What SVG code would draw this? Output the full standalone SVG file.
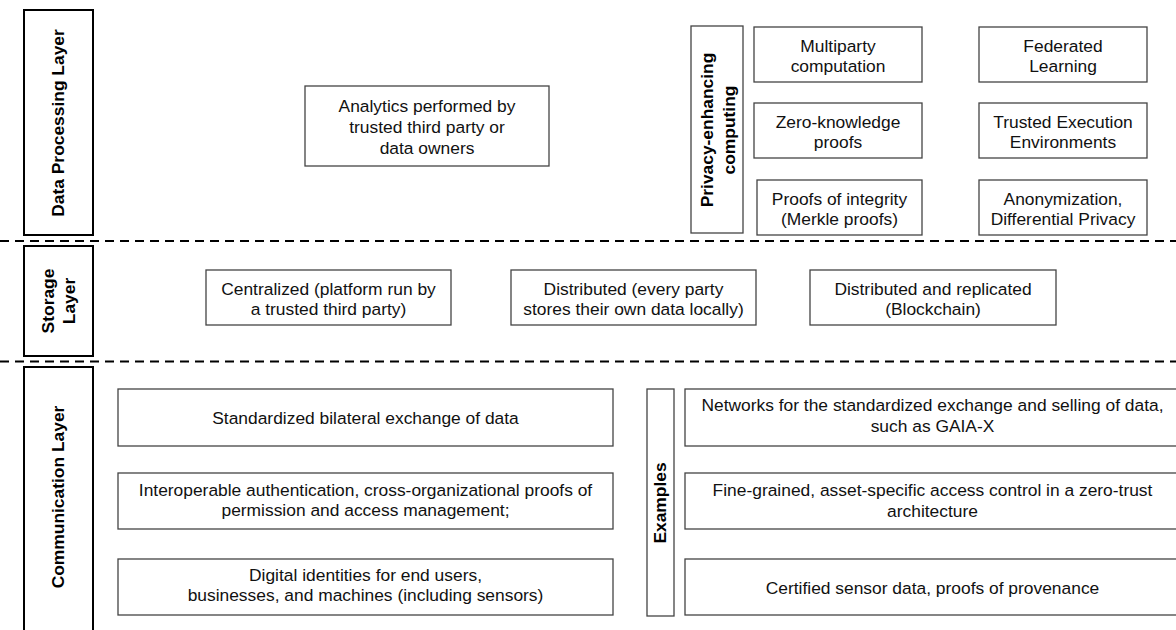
<svg xmlns="http://www.w3.org/2000/svg" width="1176" height="630" viewBox="0 0 1176 630">
<style>
text{font-family:"Liberation Sans",Arial,sans-serif;font-size:17.4px;fill:#111;text-anchor:middle}
.t{font-weight:bold;fill:#000}
.layer{fill:#fff;stroke:#000;stroke-width:2}
.box{fill:#fff;stroke:#444;stroke-width:1.3}
.dash{stroke:#000;stroke-width:2;stroke-dasharray:9 6;fill:none}
</style>
<rect width="1176" height="630" fill="#fff"/>
<g id="separators">
<line class="dash" x1="0" y1="241" x2="1176" y2="241"/>
<line class="dash" x1="0" y1="361.5" x2="1176" y2="361.5"/>
</g>
<g id="connectors"></g>
<g id="layer-processing">
<rect class="layer" x="24" y="10" width="69" height="225"/>
<text class="t" transform="translate(64,123) rotate(-90)">Data Processing Layer</text>
</g>
<g id="layer-storage">
<rect class="layer" x="24" y="246" width="69" height="110"/>
<text class="t" transform="translate(54,301) rotate(-90)">Storage</text>
<text class="t" transform="translate(75,301) rotate(-90)">Layer</text>
</g>
<g id="layer-communication">
<rect class="layer" x="24" y="367" width="69" height="280"/>
<text class="t" transform="translate(64,497) rotate(-90)">Communication Layer</text>
</g>
<g id="analytics">
<rect class="box" x="305" y="86" width="244" height="80"/>
<text x="427" y="112">Analytics performed by</text>
<text x="427" y="133">trusted third party or</text>
<text x="427" y="154">data owners</text>
</g>
<g id="pec">
<rect class="box" x="691" y="26" width="52" height="207"/>
<text class="t" transform="translate(713,130) rotate(-90)">Privacy-enhancing</text>
<text class="t" transform="translate(735,130) rotate(-90)">computing</text>
</g>
<g id="mpc">
<rect class="box" x="754" y="27" width="168" height="55"/>
<text x="838" y="52">Multiparty</text>
<text x="838" y="72">computation</text>
</g>
<g id="zkp">
<rect class="box" x="754" y="103" width="168" height="55"/>
<text x="838" y="128">Zero-knowledge</text>
<text x="838" y="148">proofs</text>
</g>
<g id="poi">
<rect class="box" x="757" y="180" width="165" height="55"/>
<text x="839.5" y="205">Proofs of integrity</text>
<text x="839.5" y="225">(Merkle proofs)</text>
</g>
<g id="fl">
<rect class="box" x="979" y="27" width="168" height="55"/>
<text x="1063" y="52">Federated</text>
<text x="1063" y="72">Learning</text>
</g>
<g id="tee">
<rect class="box" x="979" y="103" width="168" height="55"/>
<text x="1063" y="128">Trusted Execution</text>
<text x="1063" y="148">Environments</text>
</g>
<g id="anon">
<rect class="box" x="979" y="180" width="168" height="55"/>
<text x="1063" y="205">Anonymization,</text>
<text x="1063" y="225">Differential Privacy</text>
</g>
<g id="centralized">
<rect class="box" x="206" y="270" width="245" height="55"/>
<text x="328.5" y="295">Centralized (platform run by</text>
<text x="328.5" y="315">a trusted third party)</text>
</g>
<g id="distributed">
<rect class="box" x="511" y="270" width="245" height="55"/>
<text x="633.5" y="295">Distributed (every party</text>
<text x="633.5" y="315">stores their own data locally)</text>
</g>
<g id="replicated">
<rect class="box" x="810" y="270" width="246" height="55"/>
<text x="933" y="295">Distributed and replicated</text>
<text x="933" y="315">(Blockchain)</text>
</g>
<g id="bilateral">
<rect class="box" x="118" y="389" width="495" height="57"/>
<text x="365.5" y="423.5">Standardized bilateral exchange of data</text>
</g>
<g id="interop">
<rect class="box" x="118" y="473" width="495" height="56"/>
<text x="365.5" y="496">Interoperable authentication, cross-organizational proofs of</text>
<text x="365.5" y="516">permission and access management;</text>
</g>
<g id="identities">
<rect class="box" x="118" y="559" width="495" height="56"/>
<text x="365.5" y="581">Digital identities for end users,</text>
<text x="365.5" y="601">businesses, and machines (including sensors)</text>
</g>
<g id="examples">
<rect class="box" x="647" y="389" width="27" height="227"/>
<text class="t" transform="translate(666,503) rotate(-90)">Examples</text>
</g>
<g id="gaiax">
<rect class="box" x="685" y="389" width="495" height="57"/>
<text x="932.5" y="411">Networks for the standardized exchange and selling of data,</text>
<text x="932.5" y="432">such as GAIA-X</text>
</g>
<g id="zerotrust">
<rect class="box" x="685" y="473" width="495" height="56"/>
<text x="932.5" y="496">Fine-grained, asset-specific access control in a zero-trust</text>
<text x="932.5" y="517">architecture</text>
</g>
<g id="sensor">
<rect class="box" x="685" y="559" width="495" height="56"/>
<text x="932.5" y="594">Certified sensor data, proofs of provenance</text>
</g>
</svg>
